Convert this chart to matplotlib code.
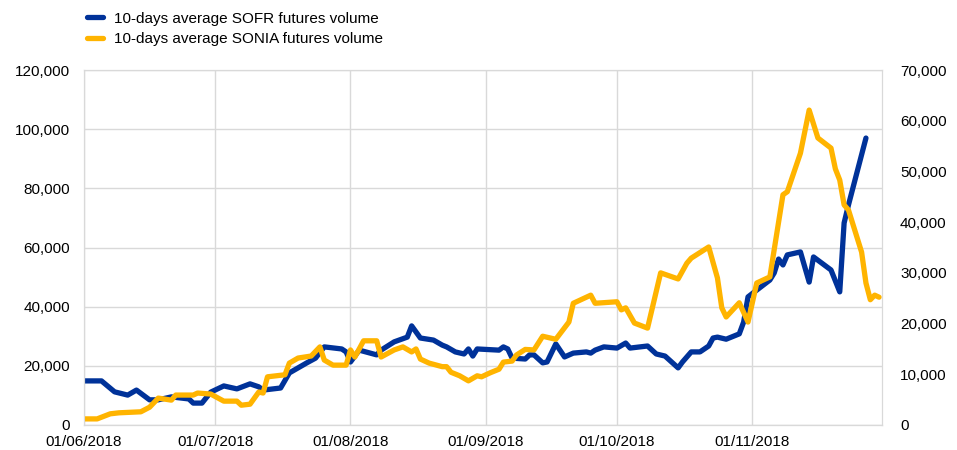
import matplotlib
matplotlib.use("Agg")
import matplotlib.pyplot as plt
import matplotlib.dates as mdates
from matplotlib.ticker import FuncFormatter, MultipleLocator
import pandas as pd

plt.rcParams['font.family'] = ['Liberation Sans', 'DejaVu Sans']

# SOFR futures volume, 10-day average (left axis)
sofr_dates = ["2018-06-01", "2018-06-05", "2018-06-08", "2018-06-11", "2018-06-13", "2018-06-16",
              "2018-06-18", "2018-06-21", "2018-06-25", "2018-06-26", "2018-06-28", "2018-06-30",
              "2018-07-03", "2018-07-06", "2018-07-09", "2018-07-11", "2018-07-12", "2018-07-16",
              "2018-07-18", "2018-07-22", "2018-07-24", "2018-07-26", "2018-07-30", "2018-07-31",
              "2018-08-01", "2018-08-03", "2018-08-07", "2018-08-08", "2018-08-11", "2018-08-14",
              "2018-08-15", "2018-08-17", "2018-08-20", "2018-08-22", "2018-08-23", "2018-08-25",
              "2018-08-27", "2018-08-28", "2018-08-29", "2018-08-30", "2018-09-04", "2018-09-05",
              "2018-09-06", "2018-09-07", "2018-09-10", "2018-09-11", "2018-09-12", "2018-09-14",
              "2018-09-15", "2018-09-17", "2018-09-19", "2018-09-21", "2018-09-24", "2018-09-25",
              "2018-09-26", "2018-09-28", "2018-10-01", "2018-10-03", "2018-10-04", "2018-10-08",
              "2018-10-10", "2018-10-12", "2018-10-15", "2018-10-16", "2018-10-17", "2018-10-18",
              "2018-10-20", "2018-10-22", "2018-10-23", "2018-10-24", "2018-10-26", "2018-10-29",
              "2018-10-30", "2018-10-31", "2018-11-02", "2018-11-05", "2018-11-06", "2018-11-07",
              "2018-11-08", "2018-11-09", "2018-11-12", "2018-11-14", "2018-11-15", "2018-11-19",
              "2018-11-21", "2018-11-22", "2018-11-23", "2018-11-27"]
sofr_vol = [14900, 14900, 11200, 10100, 11800, 8500,
            8500, 9500, 8800, 7400, 7400, 11100,
            13200, 12200, 13900, 12900, 11800, 12500,
            17600, 21000, 22600, 26400, 25700, 24700,
            21300, 25300, 23700, 25300, 28100, 29700,
            33500, 29400, 28700, 27000, 26400, 24700,
            24000, 25700, 23300, 25700, 25300, 26400,
            25700, 22600, 22300, 23700, 23700, 21000,
            21300, 27400, 23000, 24300, 24700, 24300,
            25300, 26400, 26000, 27700, 26000, 26700,
            24000, 23300, 19300, 21300, 23000, 24700,
            24700, 26700, 29400, 29700, 29000, 30800,
            34800, 43300, 45600, 49000, 51400, 56100,
            54100, 57500, 58500, 48300, 56800, 52400,
            45000, 68300, 74400, 97000]

# SONIA futures volume, 10-day average (right axis)
sonia_dates = ["2018-06-01", "2018-06-04", "2018-06-07", "2018-06-09", "2018-06-14", "2018-06-16",
               "2018-06-18", "2018-06-21", "2018-06-22", "2018-06-26", "2018-06-27", "2018-06-30",
               "2018-07-03", "2018-07-06", "2018-07-07", "2018-07-09", "2018-07-11", "2018-07-12",
               "2018-07-13", "2018-07-17", "2018-07-18", "2018-07-20", "2018-07-23", "2018-07-25",
               "2018-07-26", "2018-07-28", "2018-07-31", "2018-08-01", "2018-08-02", "2018-08-04",
               "2018-08-07", "2018-08-08", "2018-08-11", "2018-08-13", "2018-08-15", "2018-08-16",
               "2018-08-17", "2018-08-19", "2018-08-22", "2018-08-23", "2018-08-24", "2018-08-26",
               "2018-08-28", "2018-08-30", "2018-08-31", "2018-09-02", "2018-09-04", "2018-09-05",
               "2018-09-07", "2018-09-08", "2018-09-10", "2018-09-12", "2018-09-14", "2018-09-17",
               "2018-09-20", "2018-09-21", "2018-09-25", "2018-09-26", "2018-10-01", "2018-10-02",
               "2018-10-03", "2018-10-05", "2018-10-08", "2018-10-11", "2018-10-15", "2018-10-17",
               "2018-10-18", "2018-10-22", "2018-10-24", "2018-10-25", "2018-10-26", "2018-10-29",
               "2018-10-31", "2018-11-02", "2018-11-05", "2018-11-08", "2018-11-09", "2018-11-12",
               "2018-11-14", "2018-11-16", "2018-11-19", "2018-11-20", "2018-11-21", "2018-11-22",
               "2018-11-23", "2018-11-26", "2018-11-27", "2018-11-28", "2018-11-29", "2018-11-30"]
sonia_vol = [1200, 1200, 2200, 2400, 2600, 3500,
             5300, 4900, 5900, 5900, 6300, 6100,
             4700, 4700, 3900, 4100, 6500, 6300,
             9500, 9900, 12200, 13200, 13600, 15400,
             12800, 11800, 11800, 14800, 13400, 16600,
             16600, 13400, 14800, 15400, 14400, 15000,
             13000, 12200, 11500, 11500, 10400, 9700,
             8700, 9700, 9500, 10300, 11000, 12400,
             12600, 13800, 14900, 14800, 17500, 16900,
             20300, 24000, 25600, 24000, 24300, 22700,
             23100, 20100, 19100, 30000, 28800, 31900,
             32900, 35100, 29000, 23100, 21300, 24100,
             20300, 28000, 29200, 45400, 46000, 53600,
             62100, 56600, 54600, 50500, 48300, 43400,
             42400, 34100, 28000, 24700, 25600, 25200]

month_ticks = pd.date_range("2018-06-01", "2018-11-01", freq="MS")

fig = plt.figure(figsize=(9.57, 4.5), dpi=100)
ax = fig.add_axes([0.0878, 0.0556, 0.8338, 0.7888])
ax2 = ax.twinx()

blue = "#003299"
yellow = "#FFB400"
grid_c = "#d9d9d9"

l1, = ax.plot(pd.to_datetime(sofr_dates), sofr_vol, color=blue, lw=3.8,
              solid_joinstyle="round", solid_capstyle="round")
l2, = ax2.plot(pd.to_datetime(sonia_dates), sonia_vol, color=yellow, lw=3.8,
               solid_joinstyle="round", solid_capstyle="round")

ax.set_xlim(pd.Timestamp("2018-06-01"), pd.Timestamp("2018-11-30 16:00"))
ax.set_ylim(0, 120000)
ax2.set_ylim(0, 70000)
ax.yaxis.set_major_locator(MultipleLocator(20000))
ax2.yaxis.set_major_locator(MultipleLocator(10000))
fmt = FuncFormatter(lambda v, p: f"{int(v):,}")
ax.yaxis.set_major_formatter(fmt)
ax2.yaxis.set_major_formatter(fmt)

ax.set_xticks(month_ticks)
ax.xaxis.set_major_formatter(mdates.DateFormatter("%d/%m/%Y"))

ax.grid(True, color=grid_c, lw=1)
ax.set_axisbelow(True)
for a in (ax, ax2):
    for s in a.spines.values():
        s.set_color(grid_c)
    a.tick_params(length=0, labelsize=11, colors="#000000")
ax.spines["bottom"].set_color("#bfbfbf")
ax.tick_params(axis="x", pad=7)
ax.tick_params(axis="y", pad=10)
ax2.tick_params(axis="y", pad=13)

fig.legend([l1, l2], ["10-days average SOFR futures volume", "10-days average SONIA futures volume"],
           loc="upper left", bbox_to_anchor=(0.077, 1.005), frameon=False, fontsize=11,
           handlelength=1.0, handletextpad=0.75, labelspacing=0.45)

fig.savefig("out.png", dpi=100)
